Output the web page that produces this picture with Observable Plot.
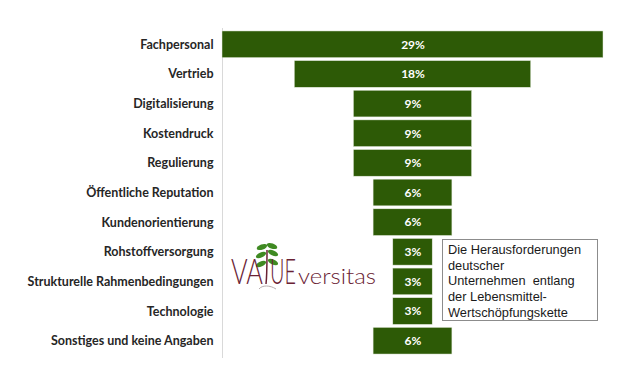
<!DOCTYPE html>
<html>
<head>
<meta charset="utf-8">
<script src="https://cdn.jsdelivr.net/npm/d3@7"></script>
<script src="https://cdn.jsdelivr.net/npm/@observablehq/plot@0.6"></script>
<style>
  html, body { margin: 0; padding: 0; background: #fff; }
  #wrap { position: relative; width: 640px; height: 384px; overflow: hidden; }
  #note {
    position: absolute; left: 442px; top: 239px; width: 149px; height: 78px;
    border: 1px solid #8c8c8c; padding: 2px 0 0 5px;
    font-family: "Liberation Sans", Arial, sans-serif; font-size: 12.8px; line-height: 15.7px; color: #1a1a1a;
    background: #fff; white-space: pre;
  }
  #logo { position: absolute; left: 0; top: 0; }
</style>
</head>
<body>
<div id="wrap"></div>
<script>
const categories = [
  "Fachpersonal", "Vertrieb", "Digitalisierung", "Kostendruck", "Regulierung",
  "Öffentliche Reputation", "Kundenorientierung", "Rohstoffversorgung",
  "Strukturelle Rahmenbedingungen", "Technologie", "Sonstiges und keine Angaben"
];
const values = [29, 18, 9, 9, 9, 6, 6, 3, 3, 3, 6];
const noteLines = [
  "Die Herausforderungen", "deutscher", "Unternehmen  entlang",
  "der Lebensmittel-", "Wertschöpfungskette"
];

const data = categories.map((c, i) => ({category: c, value: values[i]}));
const maxV = d3.max(values);

const chart = Plot.plot({
  width: 640,
  height: 384,
  marginLeft: 222,
  marginRight: 37,
  marginTop: 28,
  marginBottom: 27,
  style: {fontFamily: "Lato, sans-serif", background: "transparent"},
  x: {domain: [-maxV / 2, maxV / 2], axis: null},
  y: {domain: categories, padding: 0.1, round: false, label: null},
  marks: [
    Plot.axisY({tickSize: 0, tickPadding: 9, fontSize: 12.5, fontWeight: "bold", fill: "#262626", label: null}),
    Plot.frame({anchor: "left", stroke: "#d9d9d9"}),
    Plot.barX(data, {
      y: "category",
      x1: d => -d.value / 2,
      x2: d => d.value / 2,
      fill: "#2d5a06",
      stroke: "#e6ece0",
      strokeWidth: 0.5
    }),
    Plot.text(data, {
      y: "category",
      x: () => 0,
      text: d => d.value + "%",
      fill: "white",
      fontWeight: "bold",
      fontSize: 12
    })
  ]
});

const wrap = document.getElementById("wrap");
wrap.appendChild(chart);

// Text box
const note = document.createElement("div");
note.id = "note";
note.textContent = noteLines.join("\n");
wrap.appendChild(note);

// Logo overlay
const logo = d3.create("svg").attr("id", "logo").attr("width", 640).attr("height", 384);
wrap.appendChild(logo.node());
const maroon = "#6a2234";
// plant
const p = logo.append("g");
p.append("path").attr("d", "M266,284 C267,276 267,264 267,250").attr("stroke", maroon).attr("stroke-width", 1.5).attr("fill", "none");
p.append("path").attr("d", "M259,289 C262,285 270,285 276,289").attr("stroke", "#b8aeb0").attr("stroke-width", 1).attr("fill", "none");
const leaves = [[261, 264, -25], [273, 262, 25], [261, 255, -25], [273, 253, 25], [262, 247, -20], [272, 246, 20]];
leaves.forEach(([cx, cy, r]) => {
  p.append("ellipse").attr("cx", cx).attr("cy", cy).attr("rx", 5.5).attr("ry", 2.6)
    .attr("transform", `rotate(${r},${cx},${cy})`).attr("fill", "#3f8a22");
});
const parts = [["VA", 231, 32, 36], ["UE", 270, 26, 36], ["versitas", 298, 78, 22]];
parts.forEach(([s, x, w, fs]) => {
  const el = logo.append("text").attr("font-family", "Lato, sans-serif").attr("font-weight", 300)
    .attr("fill", maroon).attr("font-size", fs).text(s);
  const natural = el.node().getComputedTextLength() || w;
  el.attr("transform", `translate(${x},284) scale(${w / natural},1)`);
});
</script>
</body>
</html>
